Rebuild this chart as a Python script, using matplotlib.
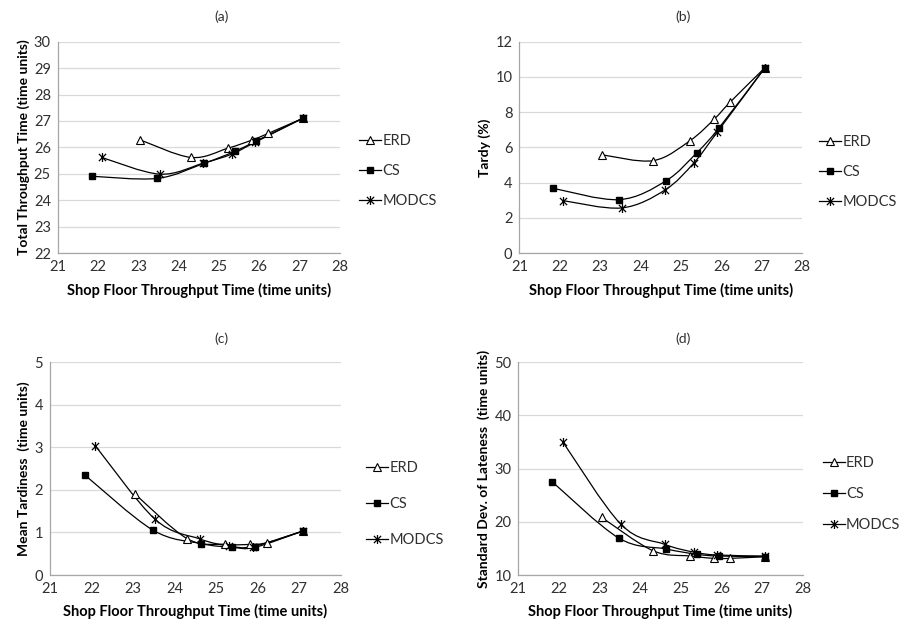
import numpy as np
import matplotlib
matplotlib.use("Agg")
import matplotlib.pyplot as plt
from matplotlib.path import Path
from matplotlib.patches import PathPatch
from matplotlib.lines import Line2D

plt.rcParams['font.family'] = ['Lato', 'DejaVu Sans']

# x values (shop floor throughput time) for each rule
x_erd = [23.05, 24.31, 25.22, 25.82, 26.22, 27.08]
x_cs = [21.84, 23.47, 24.63, 25.39, 25.93, 27.08]
x_modcs = [22.09, 23.53, 24.60, 25.32, 25.89, 27.08]

# (a) total throughput time
a_erd = [26.28, 25.62, 25.97, 26.28, 26.53, 27.10]
a_cs = [24.91, 24.83, 25.40, 25.85, 26.25, 27.10]
a_modcs = [25.62, 24.99, 25.40, 25.75, 26.19, 27.10]

# (b) tardy (%)
b_erd = [5.58, 5.25, 6.38, 7.60, 8.58, 10.53]
b_cs = [3.68, 3.04, 4.11, 5.70, 7.08, 10.53]
b_modcs = [2.98, 2.57, 3.58, 5.13, 6.85, 10.53]

# (c) mean tardiness
c_erd = [1.90, 0.85, 0.72, 0.72, 0.76, 1.03]
c_cs = [2.35, 1.06, 0.74, 0.65, 0.65, 1.03]
c_modcs = [3.04, 1.31, 0.85, 0.68, 0.67, 1.03]

# (d) std dev of lateness
d_erd = [20.85, 14.58, 13.57, 13.13, 13.13, 13.45]
d_cs = [27.5, 16.96, 14.9, 13.9, 13.57, 13.45]
d_modcs = [35.1, 19.5, 15.77, 14.3, 13.76, 13.57]

labels = ['ERD', 'CS', 'MODCS']

# asterisk marker: vertical bar plus an X
star = Path([(0, -1), (0, 1), (-0.8, -0.8), (0.8, 0.8), (-0.8, 0.8), (0.8, -0.8)],
            [Path.MOVETO, Path.LINETO, Path.MOVETO, Path.LINETO, Path.MOVETO, Path.LINETO])
styles = {
    'ERD': dict(marker='^', markersize=5.5, markerfacecolor='white', markeredgecolor='black', markeredgewidth=0.8),
    'CS': dict(marker='s', markersize=4.5, markerfacecolor='black', markeredgecolor='black'),
    'MODCS': dict(marker=star, markersize=6.5, markeredgecolor='black', markeredgewidth=0.9),
}


def smooth_path(x, y):
    # Excel-like smoothed line through the points (cubic Bezier segments)
    pts = np.column_stack([x, y])
    n = len(pts)
    verts = [pts[0]]
    codes = [Path.MOVETO]
    for i in range(n - 1):
        p0 = pts[i - 1] if i > 0 else pts[i]
        p1 = pts[i]
        p2 = pts[i + 1]
        p3 = pts[i + 2] if i + 2 < n else pts[i + 1]
        verts += [p1 + (p2 - p0) / 6, p2 - (p3 - p1) / 6, p2]
        codes += [Path.CURVE4] * 3
    return Path(verts, codes)


panels = [
    ('(a)', [a_erd, a_cs, a_modcs], (22, 30), 1, 'Total Throughput Time (time units)',
     [0.064, 0.598, 0.312, 0.336], (0.397, 0.728), 1.1, (0.245, 0.973)),
    ('(b)', [b_erd, b_cs, b_modcs], (0, 12), 2, 'Tardy (%)',
     [0.5745, 0.598, 0.313, 0.336], (0.906, 0.727), 1.1, (0.756, 0.973)),
    ('(c)', [c_erd, c_cs, c_modcs], (0, 5), 1, 'Mean Tardiness  (time units)',
     [0.0553, 0.0873, 0.3216, 0.3376], (0.405, 0.20), 1.5, (0.245, 0.462)),
    ('(d)', [d_erd, d_cs, d_modcs], (10, 50), 10, 'Standard Dev. of Lateness  (time units)',
     [0.5733, 0.0873, 0.3147, 0.3376], (0.910, 0.216), 1.15, (0.756, 0.462)),
]

fig = plt.figure(figsize=(9.04, 6.3), dpi=100)

for title, series, ylim, ystep, ylabel, rect, leg_pos, leg_sp, title_pos in panels:
    ax = fig.add_axes(rect)
    handles = []
    for name, xs, ys in zip(labels, [x_erd, x_cs, x_modcs], series):
        ax.add_patch(PathPatch(smooth_path(xs, ys), facecolor='none', edgecolor='black', lw=0.9, zorder=3))
        ax.plot(xs, ys, linestyle='none', zorder=4, **styles[name])
        handles.append(Line2D([], [], color='black', lw=0.9, **styles[name]))
    ax.set_xlim(21, 28)
    ax.set_ylim(*ylim)
    ax.set_xticks(np.arange(21, 29, 1))
    ax.set_yticks(np.arange(ylim[0], ylim[1] + ystep / 2, ystep))
    ax.yaxis.grid(True, color='#d9d9d9', lw=0.9)
    ax.set_axisbelow(True)
    for s in ['top', 'right']:
        ax.spines[s].set_visible(False)
    for s in ['left', 'bottom']:
        ax.spines[s].set_color('#a6a6a6')
        ax.spines[s].set_linewidth(0.9)
    ax.tick_params(length=0, labelsize=10.5, colors='#303030', pad=5)
    ax.set_xlabel('Shop Floor Throughput Time (time units)', fontsize=10.5, fontweight='bold', labelpad=6)
    ax.set_ylabel(ylabel, fontsize=10, fontweight='bold', labelpad=3)
    fig.text(title_pos[0], title_pos[1], title, ha='center', va='center', fontsize=10, color='#303030')
    fig.legend(handles, labels, loc='center left', bbox_to_anchor=leg_pos, frameon=False,
               fontsize=10.5, handlelength=1.5, handletextpad=0.1, labelspacing=leg_sp,
               borderpad=0, borderaxespad=0, labelcolor='#303030')

fig.savefig('out.png', dpi=100)
